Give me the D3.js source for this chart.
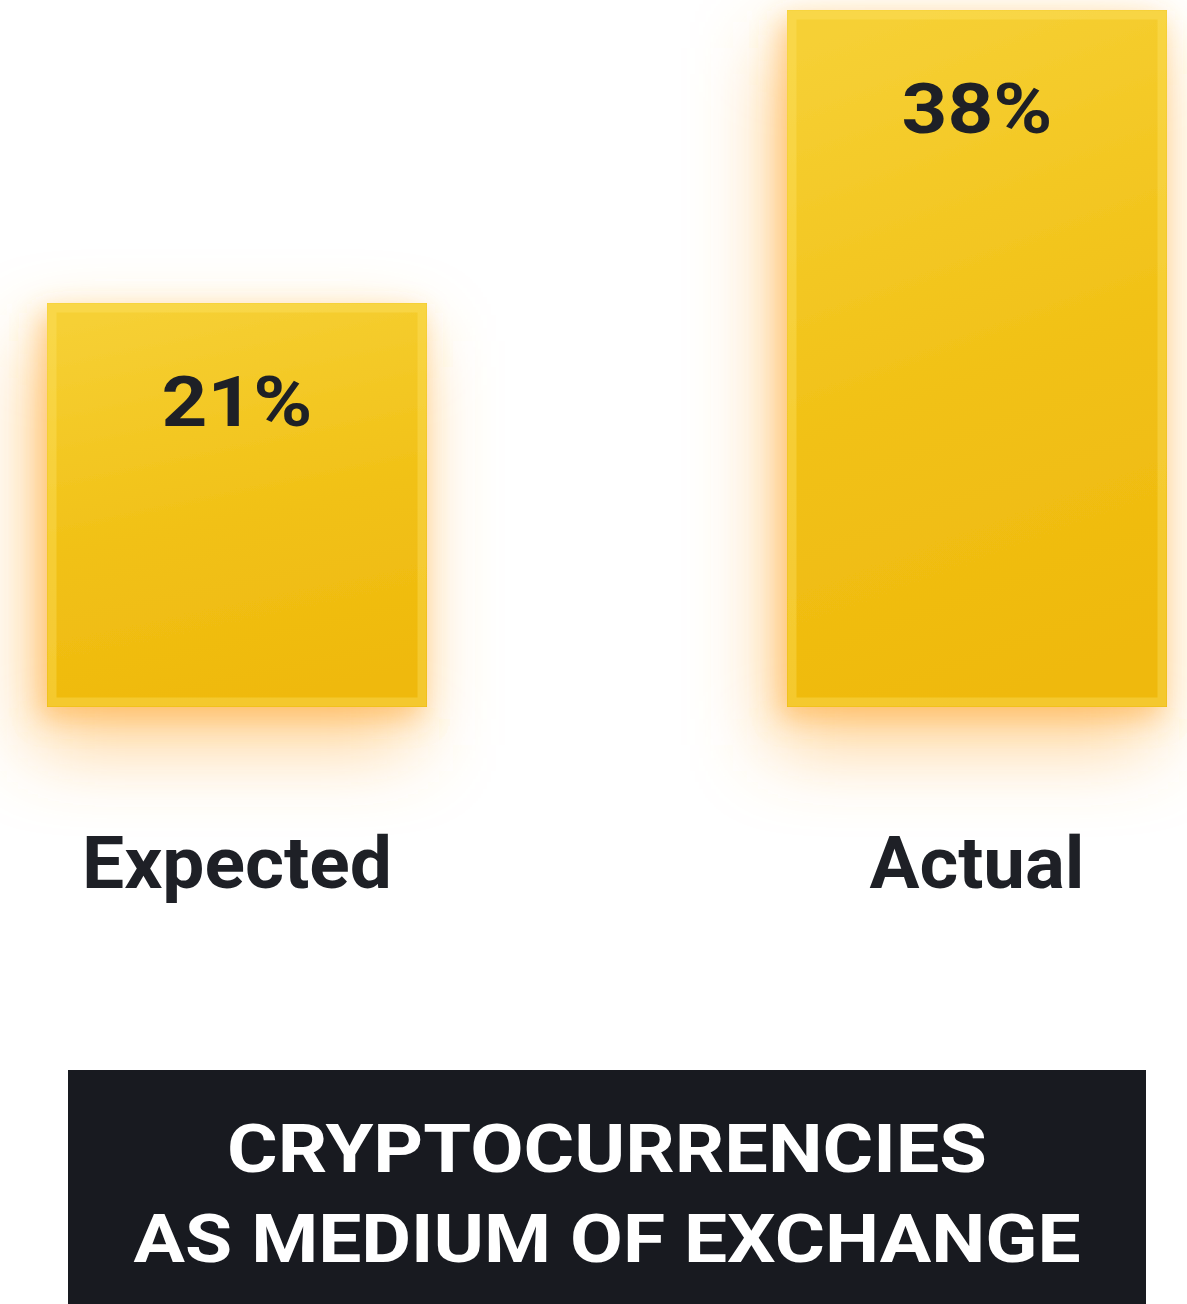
<!DOCTYPE html>
<html>
<head>
<meta charset="utf-8">
<script src="https://cdn.jsdelivr.net/npm/d3@7"></script>
<style>
html,body{margin:0;padding:0;background:#fff;}
svg{display:block;}
</style>
</head>
<body>
<div id="chart"></div>
<script>
const categories = ["Expected", "Actual"];
const values = [21, 38];
const valueLabels = ["21%", "38%"];
const titleLines = ["CRYPTOCURRENCIES", "AS MEDIUM OF EXCHANGE"];

const W = 1187, H = 1304;
const svg = d3.select("#chart").append("svg").attr("width", W).attr("height", H);
const defs = svg.append("defs");

const grad = defs.append("linearGradient").attr("id", "barGrad")
  .attr("x1", "0.3").attr("y1", "0").attr("x2", "0.5").attr("y2", "1");
grad.append("stop").attr("offset", "0%").attr("stop-color", "#F6D035");
grad.append("stop").attr("offset", "55%").attr("stop-color", "#F1C116");
grad.append("stop").attr("offset", "100%").attr("stop-color", "#EFB90D");

const f = defs.append("filter").attr("id", "glow")
  .attr("x", "-60%").attr("y", "-40%").attr("width", "220%").attr("height", "200%");
f.append("feFlood").attr("flood-color", "#FFB24A").attr("flood-opacity", "0.6").attr("result", "c");
f.append("feComposite").attr("in", "c").attr("in2", "SourceAlpha").attr("operator", "in").attr("result", "s");
f.append("feGaussianBlur").attr("in", "s").attr("stdDeviation", "40").attr("result", "b");
f.append("feOffset").attr("in", "b").attr("dx", "-14").attr("dy", "38").attr("result", "o");
f.append("feGaussianBlur").attr("in", "s").attr("stdDeviation", "14").attr("result", "b2");
f.append("feOffset").attr("in", "b2").attr("dx", "-6").attr("dy", "10").attr("result", "o2");
const m = f.append("feMerge");
m.append("feMergeNode").attr("in", "o");
m.append("feMergeNode").attr("in", "o2");
m.append("feMergeNode").attr("in", "SourceGraphic");

const x = d3.scaleBand().domain(categories).range([47, 1167]).paddingInner(0.4865).paddingOuter(0);
const y = d3.scaleLinear().domain([-2.44, 38]).range([707, 10]);

const data = categories.map((c, i) => ({ c, v: values[i], label: valueLabels[i] }));

const g = svg.append("g");
g.selectAll("rect.bar").data(data).join("rect")
  .attr("class", "bar")
  .attr("x", d => x(d.c))
  .attr("y", d => y(d.v))
  .attr("width", x.bandwidth())
  .attr("height", d => y(-2.44) - y(d.v))
  .attr("fill", "url(#barGrad)")
  .attr("filter", "url(#glow)");

g.selectAll("rect.edge").data(data).join("rect")
  .attr("class", "edge")
  .attr("x", d => x(d.c) + 5)
  .attr("y", d => y(d.v) + 5)
  .attr("width", x.bandwidth() - 10)
  .attr("height", d => y(-2.44) - y(d.v) - 10)
  .attr("fill", "none")
  .attr("stroke", "rgba(255,230,110,0.35)")
  .attr("stroke-width", 9);

g.selectAll("text.val").data(data).join("text")
  .attr("class", "val")
  .attr("x", d => x(d.c) + x.bandwidth() / 2)
  .attr("y", d => y(d.v) + 123)
  .attr("text-anchor", "middle")
  .attr("font-family", "Roboto, sans-serif")
  .attr("font-weight", 700)
  .attr("font-size", 71)
  .attr("fill", "#1E2026")
  .attr("textLength", 151)
  .attr("lengthAdjust", "spacingAndGlyphs")
  .text(d => d.label);

const catWidths = [310, 215];
g.selectAll("text.cat").data(data).join("text")
  .attr("class", "cat")
  .attr("x", d => x(d.c) + x.bandwidth() / 2)
  .attr("y", 888)
  .attr("text-anchor", "middle")
  .attr("font-family", "Roboto, sans-serif")
  .attr("font-weight", 700)
  .attr("font-size", 72)
  .attr("fill", "#1E2026")
  .attr("textLength", (d, i) => catWidths[i])
  .attr("lengthAdjust", "spacingAndGlyphs")
  .text(d => d.c);

svg.append("rect")
  .attr("x", 68).attr("y", 1070).attr("width", 1078).attr("height", H - 1070)
  .attr("fill", "#181A20");

const titleWidths = [760, 947];
svg.selectAll("text.title").data(titleLines).join("text")
  .attr("class", "title")
  .attr("x", 607)
  .attr("y", (d, i) => 1172 + i * 90)
  .attr("text-anchor", "middle")
  .attr("font-family", "Roboto, sans-serif")
  .attr("font-weight", 700)
  .attr("font-size", 66)
  .attr("fill", "#FFFFFF")
  .attr("textLength", (d, i) => titleWidths[i])
  .attr("lengthAdjust", "spacingAndGlyphs")
  .text(d => d);
</script>
</body>
</html>
